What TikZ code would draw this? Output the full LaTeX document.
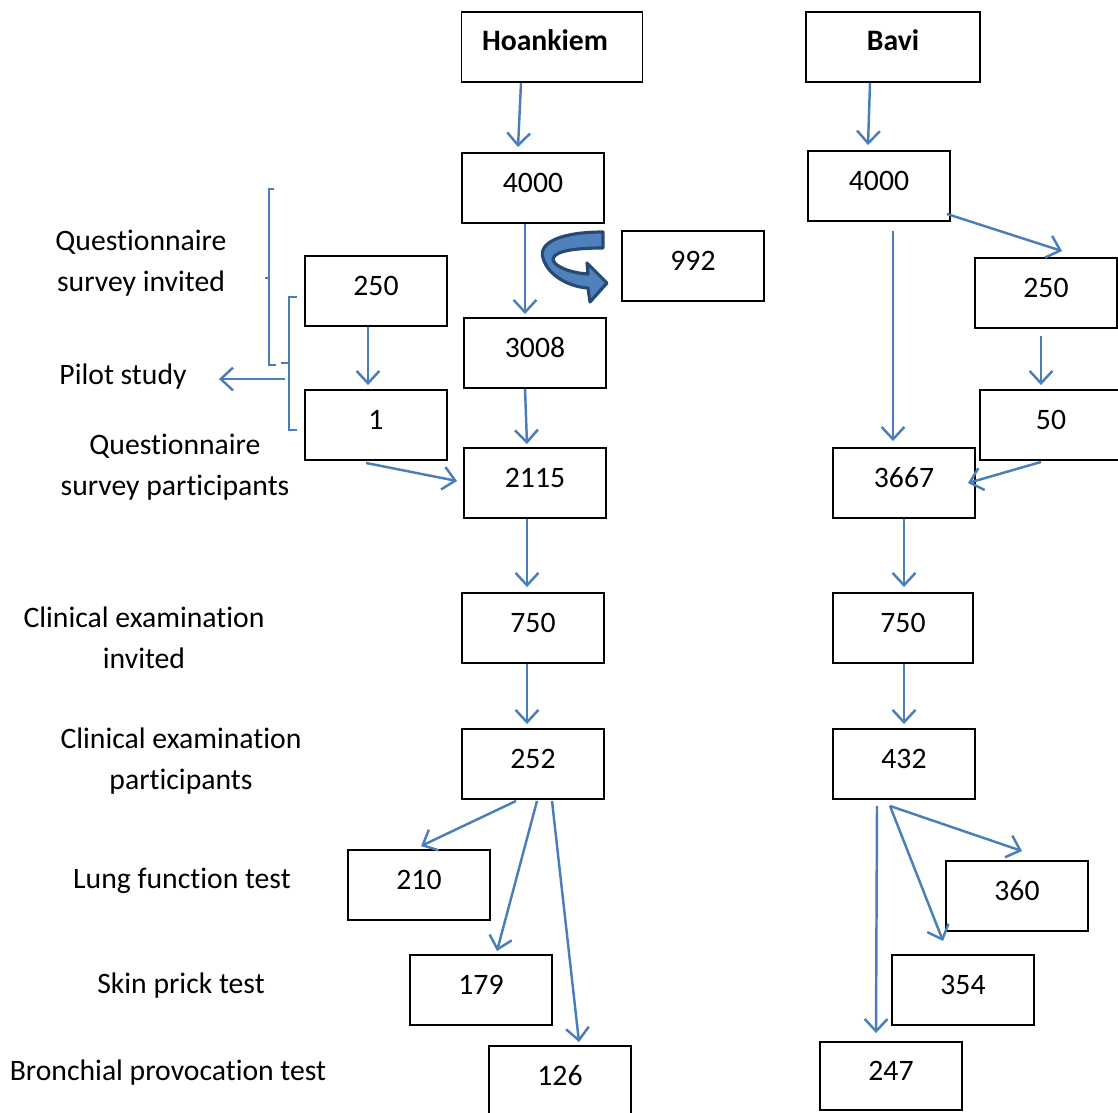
\documentclass[tikz,border=0pt]{standalone}
\usepackage{fontspec}
\setmainfont{Carlito}[Ligatures=CommonOff]
\usepackage{tikz}
\usetikzlibrary{arrows.meta, calc}
\definecolor{lineblue}{HTML}{4A7EBB}
\definecolor{curvefill}{HTML}{4F81BD}
\definecolor{curveedge}{HTML}{284A72}

\begin{document}
\begin{tikzpicture}[
  x=0.02cm, y=-0.02cm,
  font=\fontsize{16.9}{23.3}\selectfont,
  box/.style={draw, line width=1.1pt, minimum width=2.84cm, minimum height=1.4cm,
              text height=0.36cm, text depth=0.2cm, inner sep=0pt},
  lbl/.style={align=center, inner sep=0pt},
  arr/.style={-{Straight Barb[length=7pt, width=13pt]}, line width=1.4pt, lineblue},
  brk/.style={line width=1.1pt, lineblue},
]
\useasboundingbox (0,0) rectangle (1118,1112);

% Sites
\node[box, minimum width=3.62cm, font=\fontsize{16.9}{23.3}\selectfont\bfseries] (hk) at (552,47) {Hoankiem\kern0.28cm};
\node[box, minimum width=3.48cm, font=\fontsize{16.9}{23.3}\selectfont\bfseries] (bv) at (893,47) {Bavi};

% Hoankiem column
\node[box] (h4000) at (533,188) {4000};
\node[box] (n992) at (693,266) {992};
\node[box] (l250) at (376,291) {250};
\node[box] (h3008) at (535,353) {3008};
\node[box] (l1) at (376,425) {1};
\node[box] (h2115) at (535,483) {2115};
\node[box] (h750) at (533,628) {750};
\node[box] (h252) at (533,764) {252};
\node[box] (h210) at (419,885) {210};
\node[box] (h179) at (481,990) {179};
\node[box] (h126) at (560,1081) {126};

% Bavi column
\node[box] (b4000) at (879,186) {4000};
\node[box] (r250) at (1046,293) {250};
\node[box] (r50) at (1051,425) {50};
\node[box] (b3667) at (904,483) {3667};
\node[box, minimum width=2.8cm] (b750) at (903,628) {750};
\node[box] (b432) at (904,764) {432};
\node[box] (b360) at (1017,896) {360};
\node[box] (b354) at (963,990) {354};
\node[box, minimum height=1.36cm] (b247) at (891,1076) {247};

% Stage labels
\node[lbl] (qinv) at (141,263) {Questionnaire\\survey invited};
\node[lbl] (pilot) at (123,377) {Pilot study};
\node[lbl] (qpart) at (175,467) {Questionnaire\\survey participants};
\node[lbl] (cinv) at (144,638) {Clinical examination\\invited};
\node[lbl] (cpart) at (181,761) {Clinical examination\\participants};
\node[lbl] (lung) at (182,881) {Lung function test};
\node[lbl] (skin) at (181,986) {Skin prick test};
\node[lbl] (bronch) at (168,1073) {Bronchial provocation test};

% Brackets
\draw[brk] (274,189) -- (269,189) -- (269,365) -- (276,365);
\draw[brk] (269,278) -- (265,278);
\draw[brk] (297,297) -- (289,297) -- (289,430) -- (297,430);
\draw[brk] (289,363) -- (281,363);
\coordinate (pilotbrk) at (285,379);
\draw[arr] (pilotbrk) -- ($(pilot.east)+(32,2)$);

% Excluded (curved arrow)
\filldraw[fill=curvefill, draw=curveedge, line width=1.8pt, line join=round]
  (603,232) .. controls (560,232) and (538,243) .. (543,258)
  .. controls (548,276) and (570,287) .. (588,288) -- (590,302) -- (607,283)
  -- (587,263) -- (588,274) .. controls (570,273) and (553,266) .. (553,259)
  .. controls (554,251) and (575,248) .. (603,248) -- cycle;

% Hoankiem arrows
\draw[arr] ($(hk.south)+(-31,0)$) -- ($(h4000.north)+(-15,-5)$);
\draw[arr] ($(h4000.south)+(-8,0)$) -- ($(h3008.north)+(-10,-3)$);
\draw[arr] ($(l250.south)+(-8,0)$) -- ($(l1.north)+(-8,-4)$);
\draw[arr] ($(h3008.south)+(-10,0)$) -- ($(h2115.north)+(-8,-3)$);
\draw[arr] ($(l1.south)+(-10,2)$) -- ($(h2115.west)+(-6,-2)$);
\draw[arr] ($(h2115.south)+(-8,0)$) -- ($(h750.north)+(-6,-5)$);
\draw[arr] ($(h750.south)+(-6,0)$) -- ($(h252.north)+(-6,-4)$);
\draw[arr] ($(h252.south)+(-17,1)$) -- ($(h210.north)+(2,-3)$);
\draw[arr] ($(h252.south)+(4,1)$) -- ($(h179.north)+(16,-3)$);
\draw[arr] ($(h252.south)+(19,1)$) -- ($(h126.north)+(19,-3)$);

% Bavi arrows
\draw[arr] ($(bv.south)+(-23,0)$) -- ($(b4000.north)+(-11,-5)$);
\draw[arr] ($(b4000.south east)+(-4,-8)$) -- ($(r250.north)+(16,-6)$);
\draw[arr] ($(b4000.south)+(14,9)$) -- ($(b3667.north)+(-11,-6)$);
\draw[arr] ($(r250.south)+(-5,7)$) -- ($(r50.north)+(-10,-4)$);
\draw[arr] ($(r50.south)+(-10,1)$) -- ($(b3667.east)+(-8,0)$);
\draw[arr] (b3667.south) -- ($(b750.north)+(1,-5)$);
\draw[arr] ($(b750.south)+(1,0)$) -- ($(b432.north)+(0,-4)$);
\draw[arr] ($(b432.south)+(-14,6)$) -- ($(b360.north)+(5,-9)$);
\draw[arr] ($(b432.south)+(-14,6)$) -- ($(b354.north)+(-20,-13)$);
\draw[arr] ($(b432.south)+(-27,6)$) -- ($(b247.north)+(-15,-8)$);
\end{tikzpicture}
\end{document}
